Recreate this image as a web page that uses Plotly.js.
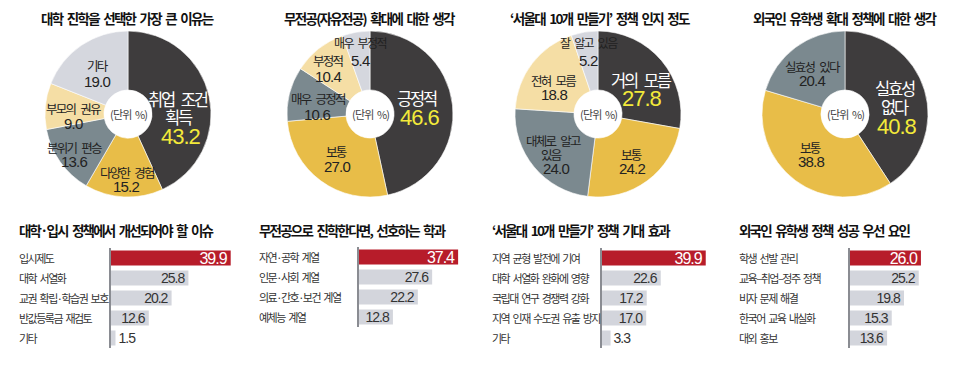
<!DOCTYPE html>
<html>
<head>
<meta charset="utf-8">
<script src="https://cdn.plot.ly/plotly-3.0.1.min.js"></script>
<style>
html,body{margin:0;padding:0;background:#fff;}
#chart{width:960px;height:365px;}
text.bartext{letter-spacing:-1px;}
</style>
</head>
<body>
<div id="chart"></div>
<script>
// ---------- DATA ----------
// Donut 1
const pie1Title = "대학 진학을 선택한 가장 큰 이유는";
const pie1Labels = ["취업 조건 획득", "다양한 경험", "분위기 편승", "부모의 권유", "기타"];
const pie1Values = [43.2, 15.2, 13.6, 9.0, 19.0];
// Donut 2
const pie2Title = "무전공(자유전공) 확대에 대한 생각";
const pie2Labels = ["긍정적", "보통", "매우 긍정적", "부정적", "매우 부정적"];
const pie2Values = [46.6, 27.0, 10.6, 10.4, 5.4];
// Donut 3
const pie3Title = "‘서울대 10개 만들기’ 정책 인지 정도";
const pie3Labels = ["거의 모름", "보통", "대체로 알고 있음", "전혀 모름", "잘 알고 있음"];
const pie3Values = [27.8, 24.2, 24.0, 18.8, 5.2];
// Donut 4
const pie4Title = "외국인 유학생 확대 정책에 대한 생각";
const pie4Labels = ["실효성 없다", "보통", "실효성 있다"];
const pie4Values = [40.8, 38.8, 20.4];

// Bar 1
const bar1Title = "대학·입시 정책에서 개선되어야 할 이슈";
const bar1Cats = ["입시제도", "대학 서열화", "교권 확립·학습권 보호", "반값등록금 재검토", "기타"];
const bar1Values = [39.9, 25.8, 20.2, 12.6, 1.5];
// Bar 2
const bar2Title = "무전공으로 진학한다면, 선호하는 학과";
const bar2Cats = ["자연·공학 계열", "인문·사회 계열", "의료·간호·보건 계열", "예체능 계열"];
const bar2Values = [37.4, 27.6, 22.2, 12.8];
// Bar 3
const bar3Title = "‘서울대 10개 만들기’ 정책 기대 효과";
const bar3Cats = ["지역 균형 발전에 기여", "대학 서열화 완화에 영향", "국립대 연구 경쟁력 강화", "지역 인재 수도권 유출 방지", "기타"];
const bar3Values = [39.9, 22.6, 17.2, 17.0, 3.3];
// Bar 4
const bar4Title = "외국인 유학생 정책 성공 우선 요인";
const bar4Cats = ["학생 선발 관리", "교육–취업–정주 정책", "비자 문제 해결", "한국어 교육 내실화", "대외 홍보"];
const bar4Values = [26.0, 25.2, 19.8, 15.3, 13.6];

const unitText = "(단위 %)";

// ---------- STYLE ----------
const W = 960, H = 365;
const KR = "Noto Sans CJK KR, sans-serif";
const NUM = "Liberation Sans, Noto Sans CJK KR, sans-serif";
const C_DARK = "#3e3c3d", C_GOLD = "#e8bd48", C_BEIGE = "#f5dea5", C_SLATE = "#7b898f", C_LIGHT = "#d5d7de";
const C_RED = "#b71c2a", C_BAR = "#d3d5dc", C_TEXT = "#222222", C_YEL = "#f3ea3a";
const pieColors5 = [C_DARK, C_GOLD, C_SLATE, C_BEIGE, C_LIGHT];
const pieColors3 = [C_DARK, C_GOLD, C_SLATE];

const px = v => v / W;
const py = v => 1 - v / H;
// tight tracking for words, normal-ish gaps between words
function LS(t, s, gap) {
  const g = (gap === undefined) ? 2 : gap;
  return t.split(" ").map(w => '<span style="letter-spacing:' + s + 'px">' + w + '</span>')
          .join('<span style="letter-spacing:' + g + 'px"> </span>');
}

function pieTrace(labels, values, colors, cx, cy, R) {
  return {
    type: "pie", labels: labels, values: values, sort: false, direction: "clockwise", rotation: 0,
    hole: 0.29, textinfo: "none", hoverinfo: "label+value",
    marker: {colors: colors, line: {color: "#ffffff", width: 0.6}},
    domain: {x: [px(cx - R), px(cx + R)], y: [py(cy + R), py(cy - R)]},
    showlegend: false
  };
}

const R = 83, CY = 114;
const pieCenters = [128, 370, 598, 845];

const traces = [
  pieTrace(pie1Labels, pie1Values, pieColors5, pieCenters[0], CY, R),
  pieTrace(pie2Labels, pie2Values, pieColors5, pieCenters[1], CY, R),
  pieTrace(pie3Labels, pie3Values, pieColors5, pieCenters[2], CY, R),
  pieTrace(pie4Labels, pie4Values, pieColors3, pieCenters[3], CY, R)
];

function barTrace(cats, values, n) {
  const colors = values.map((v, i) => i === 0 ? C_RED : C_BAR);
  const tcol = values.map((v, i) => i === 0 ? "#ffffff" : "#333333");
  const tsize = values.map((v, i) => i === 0 ? 16 : 14);
  const tpos = values.map(v => v < 5 ? "outside" : "inside");
  return {
    type: "bar", orientation: "h", x: values, y: cats,
    xaxis: "x" + (n === 1 ? "" : n), yaxis: "y" + (n === 1 ? "" : n),
    marker: {color: colors, line: {width: 0}},
    texttemplate: "%{x:.1f}", textposition: tpos, insidetextanchor: "end",
    textfont: {family: NUM, color: tcol, size: tsize},
    outsidetextfont: {family: NUM, color: "#333333", size: 14},
    constraintext: "none", cliponaxis: false, hoverinfo: "x+y", showlegend: false
  };
}
traces.push(barTrace(bar1Cats, bar1Values, 1));
traces.push(barTrace(bar2Cats, bar2Values, 2));
traces.push(barTrace(bar3Cats, bar3Values, 3));
traces.push(barTrace(bar4Cats, bar4Values, 4));

const layout = {
  width: W, height: H, margin: {l: 0, r: 0, t: 0, b: 0},
  paper_bgcolor: "#ffffff", plot_bgcolor: "rgba(0,0,0,0)",
  font: {family: KR, color: C_TEXT},
  bargap: 0.25, annotations: [], showlegend: false
};

// bar axes
const barStarts = [111, 359, 602, 850];
const barW = 125;
const barScale = [3.0, 2.65, 2.6, 3.1]; // px per unit
const barRows = [[248, 348], [247, 327], [248, 348], [248, 348]];
const barCatsAll = [bar1Cats, bar2Cats, bar3Cats, bar4Cats];
for (let i = 0; i < 4; i++) {
  const s = i === 0 ? "" : String(i + 1);
  layout["xaxis" + s] = {
    domain: [px(barStarts[i]), px(barStarts[i] + barW)], range: [0, barW / barScale[i]],
    anchor: "y" + s, visible: false, fixedrange: true
  };
  layout["yaxis" + s] = {
    domain: [py(barRows[i][1]), py(barRows[i][0])], anchor: "x" + s,
    type: "category", categoryarray: barCatsAll[i], autorange: "reversed",
    showticklabels: false, ticks: "", showgrid: false, zeroline: false,
    showline: true, linecolor: "#8a8c92", linewidth: 2, fixedrange: true
  };
}

function ann(x, y, text, size, color, ls, opts, gap, weight) {
  const a = Object.assign({
    x: px(x), y: py(y), xref: "paper", yref: "paper", text: LS(text, ls, gap), showarrow: false,
    xanchor: "center", yanchor: "middle",
    font: {family: KR, size: size, color: color, weight: weight || "normal"}
  }, opts || {});
  layout.annotations.push(a);
}

// pie titles
ann(127, 18, pie1Title, 13.5, "#111", -1.7, null, 1.2, "bold");
ann(370, 18, pie2Title, 13.5, "#111", -1.7, null, 1.2, "bold");
ann(600, 18, pie3Title, 13.5, "#111", -1.7, null, 1.2, "bold");
ann(845, 18, pie4Title, 13.5, "#111", -1.7, null, 1.2, "bold");
// units
pieCenters.forEach(cx => ann(cx, CY, unitText, 11, "#444", -0.8, null, 1));

const fmt = v => v.toFixed(1);
function numAnn(x, y, v, size, color, ls) {
  ann(x, y, fmt(v), size, color, ls, {font: {family: NUM, size: size, color: color}});
}
const LAB = 12.5, LLS = -1.7;    // small slice label
const NS = 15, NLS = -0.8;       // small slice number
const BL = 16.5, BLS = -2.2;     // big label
const BN = 22, BNS = -1;         // big number

// Donut 1 labels
ann(178, 99, pie1Labels[0].slice(0, 5), BL, "#ffffff", BLS, null, 3);
ann(179, 117, pie1Labels[0].slice(6), BL, "#ffffff", BLS);
numAnn(181, 136, pie1Values[0], BN, C_YEL, BNS);
ann(127, 172, pie1Labels[1], LAB, C_TEXT, LLS); numAnn(126, 186, pie1Values[1], NS, C_TEXT, NLS);
ann(74, 147, pie1Labels[2], LAB, C_TEXT, LLS); numAnn(74, 162, pie1Values[2], NS, C_TEXT, NLS);
ann(73, 108, pie1Labels[3], LAB, C_TEXT, LLS); numAnn(73, 124, pie1Values[3], NS, C_TEXT, NLS);
ann(98, 65, pie1Labels[4], LAB, C_TEXT, LLS); numAnn(97, 82, pie1Values[4], NS, C_TEXT, NLS);

// Donut 2 labels
ann(417, 98, pie2Labels[0], BL, "#ffffff", BLS); numAnn(420, 117, pie2Values[0], BN, C_YEL, BNS);
ann(336, 151, pie2Labels[1], LAB, C_TEXT, LLS); numAnn(337, 166, pie2Values[1], NS, C_TEXT, NLS);
ann(318, 98, pie2Labels[2], LAB, C_TEXT, LLS); numAnn(317, 115, pie2Values[2], NS, C_TEXT, NLS);
ann(328, 60, pie2Labels[3], LAB, C_TEXT, LLS); numAnn(328, 76, pie2Values[3], NS, C_TEXT, NLS);
ann(360, 43, pie2Labels[4], 12, C_TEXT, -1.6); numAnn(360, 60, pie2Values[4], NS, C_TEXT, NLS);

// Donut 3 labels
ann(641, 80, pie3Labels[0], BL, "#ffffff", BLS, null, 3); numAnn(642, 98, pie3Values[0], BN, C_YEL, BNS);
ann(631, 154, pie3Labels[1], LAB, C_TEXT, LLS); numAnn(632, 168, pie3Values[1], NS, C_TEXT, NLS);
ann(553, 140, pie3Labels[2].slice(0, 6), LAB, C_TEXT, LLS);
ann(551, 154, pie3Labels[2].slice(7), LAB, C_TEXT, LLS); numAnn(556, 168, pie3Values[2], NS, C_TEXT, NLS);
ann(553, 80, pie3Labels[3], LAB, C_TEXT, LLS); numAnn(554, 94, pie3Values[3], NS, C_TEXT, NLS);
ann(589, 43, pie3Labels[4], 12, C_TEXT, -1.6); numAnn(588, 60, pie3Values[4], NS, C_TEXT, NLS);

// Donut 4 labels
ann(895, 88, pie4Labels[0].slice(0, 3), BL, "#ffffff", BLS);
ann(895, 107, pie4Labels[0].slice(4), BL, "#ffffff", BLS);
numAnn(897, 126, pie4Values[0], BN, C_YEL, BNS);
ann(810, 147, pie4Labels[1], LAB, C_TEXT, LLS); numAnn(811, 162, pie4Values[1], NS, C_TEXT, NLS);
ann(813, 66, pie4Labels[2], LAB, C_TEXT, LLS); numAnn(812, 81, pie4Values[2], NS, C_TEXT, NLS);

// Bar titles
const barTitleX = [17, 257, 490, 737];
[bar1Title, bar2Title, bar3Title, bar4Title].forEach((t, i) =>
  ann(barTitleX[i], 230, t, 13.5, "#111", -1.8, {xanchor: "left"}, 1.2, "bold"));

// Bar category labels (positioned on the category axis)
barCatsAll.forEach((cats, i) => {
  const s = i === 0 ? "" : String(i + 1);
  cats.forEach(c => layout.annotations.push({
    x: px(barTitleX[i]), xref: "paper", y: c, yref: "y" + s, text: LS(c, -1.5, 0.8), showarrow: false,
    xanchor: "left", yanchor: "middle", font: {family: KR, size: 11, color: "#333"}
  }));
});

Plotly.newPlot("chart", traces, layout, {displayModeBar: false, staticPlot: true});
</script>
</body>
</html>
